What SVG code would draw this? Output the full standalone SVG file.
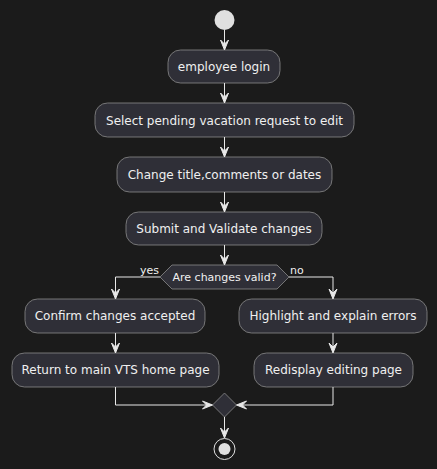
<svg xmlns="http://www.w3.org/2000/svg" width="437" height="469" viewBox="0 0 437 469">
<style>
.bg{fill:#1b1b1b}
.box{fill:#2f2f37;stroke:#8a8a8a;stroke-width:0.8}
.t{font-family:"DejaVu Sans",sans-serif;font-size:12px;fill:#f0f0f0;text-anchor:middle}
.lbl{font-family:"DejaVu Sans",sans-serif;font-size:11px;fill:#f0f0f0}
.ln{fill:none;stroke:#e8e8e8;stroke-width:1}
.ah{fill:#e8e8e8;stroke:#e8e8e8;stroke-width:1}
</style>
<rect class="bg" x="0" y="0" width="437" height="469"/>
<g id="start"><circle cx="224.5" cy="20" r="10" fill="#e0e0e0"/></g>
<g id="n1"><rect class="box" x="168" y="50" width="112" height="33" rx="12.5"/><text class="t" x="224" y="71">employee login</text></g>
<g id="n2"><rect class="box" x="95" y="103" width="259" height="34" rx="12.5"/><text class="t" x="224.5" y="124.5">Select pending vacation request to edit</text></g>
<g id="n3"><rect class="box" x="117" y="157" width="215" height="35" rx="12.5"/><text class="t" x="224.5" y="179">Change title,comments or dates</text></g>
<g id="n4"><rect class="box" x="126" y="212" width="196" height="33" rx="12.5"/><text class="t" x="224" y="233">Submit and Validate changes</text></g>
<g id="d1"><polygon class="box" points="160,277 172,265 277,265 289,277 277,289 172,289"/><text class="lbl" x="224.5" y="281" text-anchor="middle">Are changes valid?</text></g>
<g id="n5"><rect class="box" x="25" y="299" width="180" height="34" rx="12.5"/><text class="t" x="115" y="320">Confirm changes accepted</text></g>
<g id="n6"><rect class="box" x="12" y="353" width="207" height="34" rx="12.5"/><text class="t" x="115.5" y="374">Return to main VTS home page</text></g>
<g id="n7"><rect class="box" x="239" y="299" width="188" height="34" rx="12.5"/><text class="t" x="333" y="320">Highlight and explain errors</text></g>
<g id="n8"><rect class="box" x="254" y="353" width="159" height="34" rx="12.5"/><text class="t" x="333.5" y="374">Redisplay editing page</text></g>
<g id="d2"><polygon class="box" points="224.5,393 236.5,405 224.5,417 212.5,405"/></g>
<g id="end"><circle cx="224.5" cy="449" r="10.5" fill="none" stroke="#e0e0e0" stroke-width="1"/><circle cx="224.5" cy="449" r="6" fill="#e0e0e0"/></g>
<g id="connectors">
<path class="ln" d="M224.5,30 V49"/>
<polygon class="ah" points="220.5,40 224.5,50 228.5,40 224.5,44"/>
<path class="ln" d="M224.5,83 V102"/>
<polygon class="ah" points="220.5,93 224.5,103 228.5,93 224.5,97"/>
<path class="ln" d="M224.5,137 V156"/>
<polygon class="ah" points="220.5,147 224.5,157 228.5,147 224.5,151"/>
<path class="ln" d="M224.5,192 V211"/>
<polygon class="ah" points="220.5,202 224.5,212 228.5,202 224.5,206"/>
<path class="ln" d="M224.5,245 V264"/>
<polygon class="ah" points="220.5,255 224.5,265 228.5,255 224.5,259"/>
<path class="ln" d="M160,277 H115.5 V298"/>
<polygon class="ah" points="111.5,289 115.5,299 119.5,289 115.5,293"/>
<text class="lbl" x="140" y="274">yes</text>
<path class="ln" d="M289,277 H333 V298"/>
<polygon class="ah" points="329,289 333,299 337,289 333,293"/>
<text class="lbl" x="290" y="274">no</text>
<path class="ln" d="M115.5,333 V352"/>
<polygon class="ah" points="111.5,343 115.5,353 119.5,343 115.5,347"/>
<path class="ln" d="M333,333 V352"/>
<polygon class="ah" points="329,343 333,353 337,343 333,347"/>
<path class="ln" d="M115.5,387 V405 H211.5"/>
<polygon class="ah" points="202.5,401 212.5,405 202.5,409 206.5,405"/>
<path class="ln" d="M333,387 V405 H237.5"/>
<polygon class="ah" points="246.5,401 236.5,405 246.5,409 242.5,405"/>
<path class="ln" d="M224.5,417 V437"/>
<polygon class="ah" points="220.5,428 224.5,438 228.5,428 224.5,432"/>
</g>
</svg>
